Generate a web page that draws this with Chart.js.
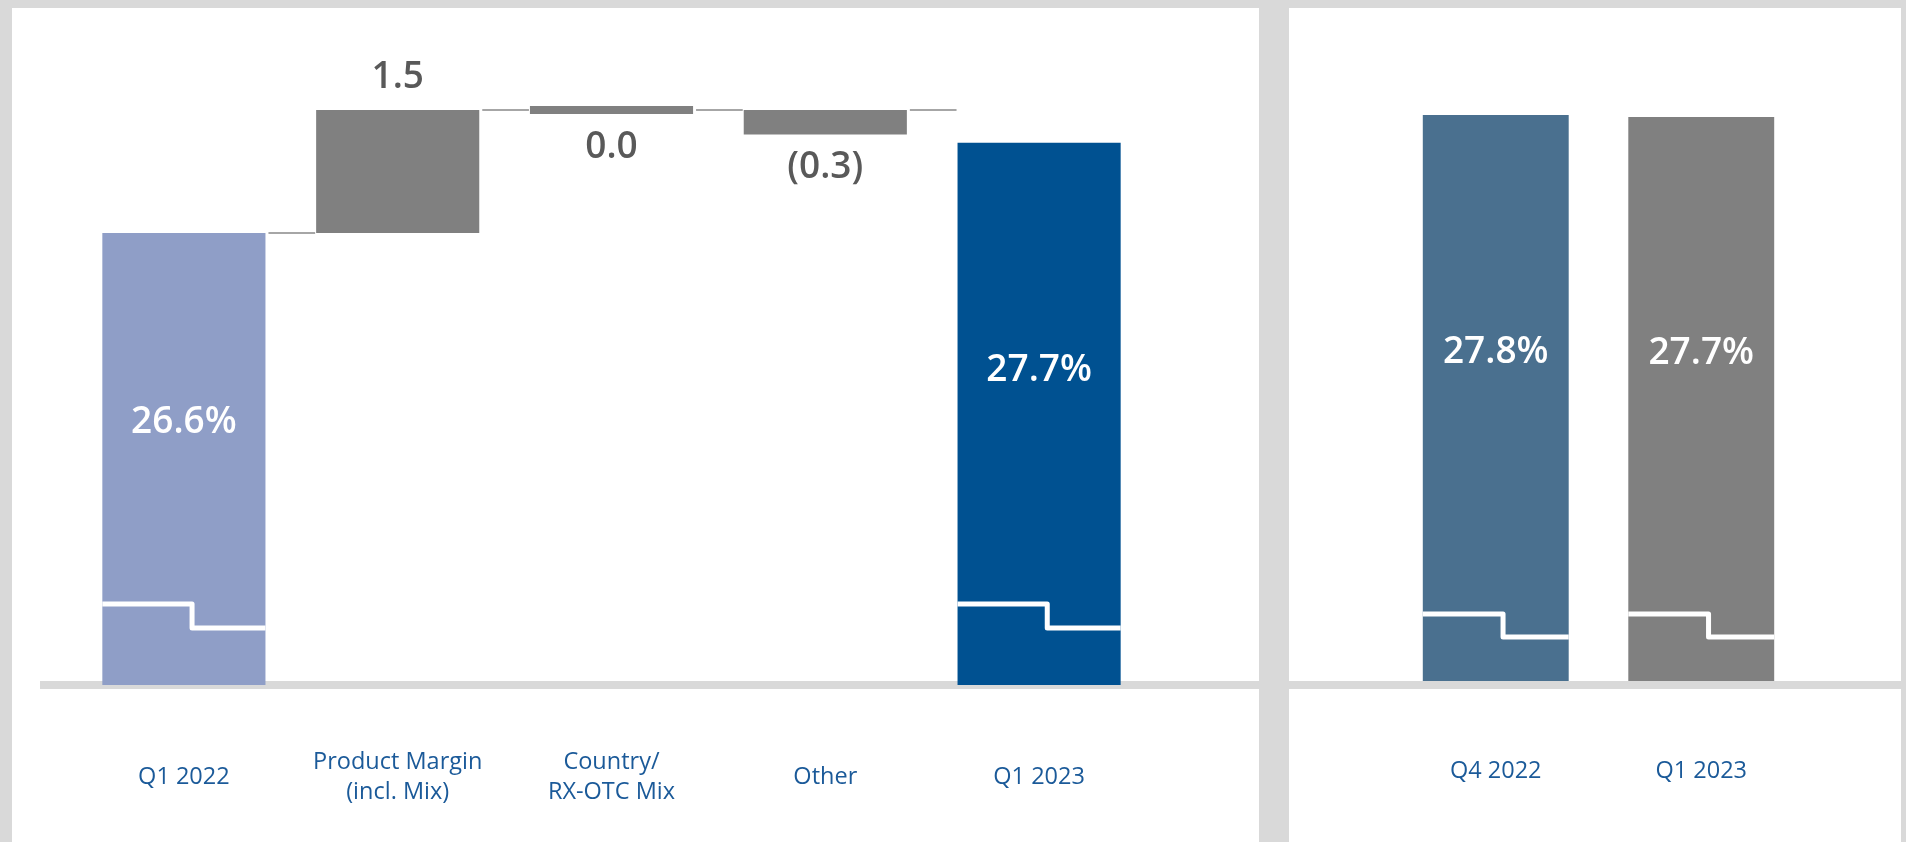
<!DOCTYPE html>
<html>
<head>
<meta charset="utf-8">
<script src="https://cdn.jsdelivr.net/npm/chart.js@4.4.0/dist/chart.umd.min.js"></script>
<style>
  html, body { margin: 0; padding: 0; background: #d9d9d9; }
  body { width: 1906px; height: 842px; position: relative; overflow: hidden; }
  .panel { position: absolute; top: 8px; height: 834px; background: #ffffff; }
  #leftPanel { left: 12px; width: 1247px; }
  #rightPanel { left: 1289px; width: 612px; }
  canvas { display: block; }
</style>
</head>
<body>
<div class="panel" id="leftPanel"><canvas id="bridgeChart" width="1247" height="834"></canvas></div>
<div class="panel" id="rightPanel"><canvas id="compareChart" width="612" height="834"></canvas></div>

<script>
// datos del puente de margen
const bridgeLabels = ["Q1 2022", ["Product Margin", "(incl. Mix)"], ["Country/", "RX-OTC Mix"], "Other", "Q1 2023"];
const bridgeValues = [26.6, 1.5, 0.0, -0.3, 27.7];
const bridgeIsTotal = [true, false, false, false, true];

// comparacion trimestral
const compareLabels = ["Q4 2022", "Q1 2023"];
const compareValues = [27.8, 27.7];

const FONT = "'Open Sans', 'Noto Sans', sans-serif";

// construir barras flotantes para la cascada
function buildBridge(values, totals) {
  let running = 0;
  return values.map((v, i) => {
    if (totals[i]) {
      running = v;
      return v;
    }
    const start = running;
    running = running + v;
    if (v === 0) return [start - 0.05, start + 0.05];
    return [start, running];
  });
}

function fmtDelta(v) {
  if (v < 0) return "(" + Math.abs(v).toFixed(1) + ")";
  return v.toFixed(1);
}

const bridgePlugin = {
  id: "bridge",
  beforeDatasetsDraw(chart, args, opts) {
    const ctx = chart.ctx;
    const y = chart.chartArea.bottom + (opts.lineShift || 0);
    ctx.save();
    ctx.strokeStyle = "#d9d9d9";
    ctx.lineWidth = 8;
    ctx.beginPath();
    ctx.moveTo(opts.lineFrom || 0, y);
    ctx.lineTo(chart.width, y);
    ctx.stroke();
    ctx.restore();
  },
  afterDatasetsDraw(chart, args, opts) {
    const ctx = chart.ctx;
    const meta = chart.getDatasetMeta(0);
    const vals = opts.values;
    const totals = opts.totals;
    const bottom = chart.chartArea.bottom;
    ctx.save();

    // lineas conectoras
    if (opts.connectors) {
      ctx.strokeStyle = "#a6a6a6";
      ctx.lineWidth = 2;
      for (let i = 0; i < meta.data.length - 1; i++) {
        const a = meta.data[i];
        const b = meta.data[i + 1];
        const level = vals[i] === 0 && !totals[i] ? (a.y + a.base) / 2 : a.y;
        ctx.beginPath();
        ctx.moveTo(a.x + a.width / 2 + 3, level);
        ctx.lineTo(b.x - b.width / 2 - 1, level);
        ctx.stroke();
      }
    }

    meta.data.forEach((el, i) => {
      const top = Math.min(el.y, el.base);
      const bot = Math.min(Math.max(el.y, el.base), bottom);
      const left = el.x - el.width / 2;
      const right = el.x + el.width / 2;
      if (totals[i]) {
        // marca de eje cortado
        const yUp = bottom - opts.breakUp;
        const yDown = yUp + opts.breakDrop;
        const xStep = left + el.width * 0.55;
        ctx.strokeStyle = "#ffffff";
        ctx.lineWidth = 5;
        ctx.lineJoin = "round";
        ctx.beginPath();
        ctx.moveTo(left, yUp);
        ctx.lineTo(xStep, yUp);
        ctx.lineTo(xStep, yDown);
        ctx.lineTo(right, yDown);
        ctx.stroke();

        ctx.fillStyle = "#ffffff";
        ctx.font = "600 37px " + FONT;
        ctx.textAlign = "center";
        ctx.textBaseline = "middle";
        ctx.fillText(vals[i].toFixed(1) + "%", el.x, top + (bot - top) * 0.42);
      } else {
        ctx.fillStyle = "#595959";
        ctx.font = "600 37px " + FONT;
        ctx.textAlign = "center";
        ctx.textBaseline = "middle";
        const ly = vals[i] > 0 ? top - 33 : bot + 33;
        ctx.fillText(fmtDelta(vals[i]), el.x, ly);
      }
    });
    ctx.restore();
  }
};

function xAxis(pad) {
  return {
    grid: { display: false, drawTicks: false },
    border: { display: false },
    afterFit: (scale) => { scale.height = 150; },
    ticks: {
      color: "#1b5a99",
      font: { family: FONT, size: 23.5, lineHeight: 1.28 },
      padding: pad,
      maxRotation: 0,
      autoSkip: false,
      crossAlign: "center"
    }
  };
}

new Chart(document.getElementById("bridgeChart"), {
  type: "bar",
  data: {
    labels: bridgeLabels,
    datasets: [{
      data: buildBridge(bridgeValues, bridgeIsTotal),
      backgroundColor: ["#8f9ec7", "#808080", "#808080", "#808080", "#005191"],
      borderWidth: 0,
      categoryPercentage: 1,
      barPercentage: 0.763
    }]
  },
  options: {
    responsive: false,
    animation: false,
    layout: { padding: { left: 65, right: 113, top: 0, bottom: 7 } },
    plugins: {
      legend: { display: false },
      tooltip: { enabled: false },
      bridge: {
        values: bridgeValues, totals: bridgeIsTotal, connectors: true,
        lineFrom: 28, lineShift: 0, breakUp: 81, breakDrop: 24
      }
    },
    scales: {
      x: xAxis(77),
      y: { display: false, min: 21.088, max: 29.344 }
    }
  },
  plugins: [bridgePlugin]
});

new Chart(document.getElementById("compareChart"), {
  type: "bar",
  data: {
    labels: compareLabels,
    datasets: [{
      data: compareValues,
      backgroundColor: ["#4a708f", "#808080"],
      borderWidth: 0,
      categoryPercentage: 1,
      barPercentage: 0.71
    }]
  },
  options: {
    responsive: false,
    animation: false,
    layout: { padding: { left: 104, right: 97, top: 0, bottom: 11 } },
    plugins: {
      legend: { display: false },
      tooltip: { enabled: false },
      bridge: {
        values: compareValues, totals: [true, true], connectors: false,
        lineFrom: 0, lineShift: 4, breakUp: 67, breakDrop: 23
      }
    },
    scales: {
      x: xAxis(90),
      y: { display: false, min: 0, max: 33.05 }
    }
  },
  plugins: [bridgePlugin]
});
</script>
</body>
</html>
